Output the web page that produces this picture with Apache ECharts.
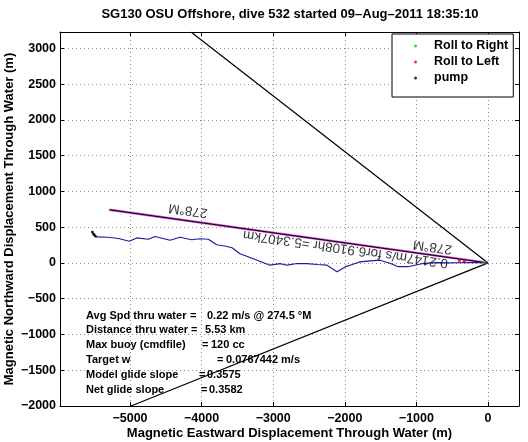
<!DOCTYPE html>
<html>
<head>
<meta charset="utf-8">
<script src="https://cdn.jsdelivr.net/npm/echarts@6/dist/echarts.min.js"></script>
<style>html,body{margin:0;padding:0;background:#fff;}#c{width:528px;height:442px;}</style>
</head>
<body>
<div id="c"></div>
<script>
// ---- data ----
const titleText = 'SG130 OSU Offshore, dive 532 started 09–Aug–2011 18:35:10';
const xAxisName = 'Magnetic Eastward Displacement Through Water (m)';
const yAxisName = 'Magnetic Northward Displacement Through Water (m)';
const xRange = [-5978, 433];
const yRange = [-2000, 3228];

// glider track through water (m)
const trackX = [-5526, -5499, -5465, -5303, -5163, -5010, -4906, -4744, -4651, -4441, -4302, -4138, -4022, -3906, -3789, -3659, -3575, -3464, -3278, -3045, -2905, -2807, -2667, -2528, -2388, -2249, -2109, -1997, -1885, -1788, -1690, -1508, -1369, -1253, -1117, -926, -740, -559, -363, -182, 0];
const trackY = [433, 380, 363, 359, 341, 303, 349, 331, 369, 317, 359, 324, 338, 331, 254, 233, 212, 128, 59, -32, -11, -32, -8, -11, -22, -32, -123, -56, -18, 14, 24, 38, -4, -53, -53, -11, 3, 0, 3, 6, 0];

// heading line (278 deg M)
const headingX = [0, -5289];
const headingY = [0, 743];
// black guide lines
const upperLineX = [0, -4148];
const upperLineY = [0, 3228];
const lowerLineX = [0, -4986];
const lowerLineY = [0, -2000];

// legend series
const rollRightX = [-60];
const rollRightY = [2];
const rollLeftX = [-400, -330];
const rollLeftY = [30, 25];
const pumpX = [-5526, -5505, -5485];
const pumpY = [433, 400, 375];

// rotated annotations
const annotText = ['278°M', '0.2147m/s for6.9108hr =5.3407km', '278°M'];
const annotX = [-4190, -1990, -775];
const annotY = [736, 198, 226];

// statistics text block
const statLabels = ['Avg Spd thru water', 'Distance thru water', 'Max buoy (cmdfile)', 'Target w', 'Model glide slope', 'Net glide slope'];
const statValues = ['0.22 m/s @ 274.5 °M', '5.53 km', '120 cc', '0.0767442 m/s', '0.3575', '0.3582'];

// ---- chart ----
const FONT = '"Liberation Sans", Arial, Helvetica, sans-serif';
const zip = (a, b) => a.map((v, i) => [v, b[i]]);
const fmt = v => (v < 0 ? '\u2212' + Math.abs(v) : String(v));

const chart = echarts.init(document.getElementById('c'), null, {renderer: 'canvas'});

const statGraphics = [];
const eqX = [190, 191, 202, 217, 199, 201];
const valX = [207, 205, 211, 226, 207, 209];
statLabels.forEach((lab, i) => {
  const y = 315.5 + i * 14.8;
  const f = 'bold 11px ' + FONT;
  statGraphics.push({type: 'text', x: 86, y: y, z: 100, style: {text: lab, font: f, fill: '#000', verticalAlign: 'middle'}});
  statGraphics.push({type: 'text', x: eqX[i], y: y, z: 100, style: {text: '=', font: f, fill: '#000', verticalAlign: 'middle'}});
  statGraphics.push({type: 'text', x: valX[i], y: y, z: 100, style: {text: statValues[i], font: f, fill: '#000', verticalAlign: 'middle'}});
});

const gridLine = {show: true, lineStyle: {color: '#8a8a8a', width: 1, type: [1, 3]}};

chart.setOption({
  animation: false,
  backgroundColor: '#fff',
  title: {
    text: titleText, left: 290, top: 8, textAlign: 'center', padding: 0,
    textStyle: {fontFamily: FONT, fontWeight: 'bold', fontSize: 13, color: '#000'}
  },
  grid: {left: 60, top: 32, width: 459, height: 374, containLabel: false, outerBoundsMode: 'none'},
  legend: {
    data: ['Roll to Right', 'Roll to Left', 'pump'],
    orient: 'vertical', left: 392, top: 34,
    padding: [5, 5, 12, 22], itemGap: 2, itemWidth: 3, itemHeight: 3,
    backgroundColor: '#fff', borderColor: '#000', borderWidth: 1, borderRadius: 0,
    icon: 'circle',
    textStyle: {fontFamily: FONT, fontWeight: 'bold', fontSize: 12.5, color: '#000', lineHeight: 14, padding: [0, 0, 0, 12]}
  },
  xAxis: [{
    type: 'value', min: xRange[0], max: xRange[1], splitNumber: 6,
    name: xAxisName, nameLocation: 'middle', nameGap: 21, nameMoveOverlap: false,
    nameTextStyle: {fontFamily: FONT, fontWeight: 'bold', fontSize: 13, color: '#000'},
    axisLine: {show: true, onZero: false, lineStyle: {color: '#000', width: 1}},
    axisTick: {show: true, inside: true, length: 4, lineStyle: {color: '#000'}},
    axisLabel: {fontFamily: FONT, fontWeight: 'bold', fontSize: 12.5, color: '#000', margin: 6,
      formatter: v => (Math.abs(v % 1000) < 1e-6 ? fmt(v) : '')},
    splitLine: gridLine
  }, {
    type: 'value', position: 'top', min: xRange[0], max: xRange[1], splitNumber: 6,
    axisLine: {show: true, onZero: false, lineStyle: {color: '#000', width: 1}},
    axisTick: {show: true, inside: true, length: 4, lineStyle: {color: '#000'}},
    axisLabel: {show: false}, splitLine: {show: false}
  }],
  yAxis: [{
    type: 'value', min: yRange[0], max: yRange[1], splitNumber: 10,
    name: yAxisName, nameLocation: 'middle', nameGap: 44, nameMoveOverlap: false,
    nameTextStyle: {fontFamily: FONT, fontWeight: 'bold', fontSize: 13, color: '#000'},
    axisLine: {show: true, onZero: false, lineStyle: {color: '#000', width: 1}},
    axisTick: {show: true, inside: true, length: 4, lineStyle: {color: '#000'}},
    axisLabel: {fontFamily: FONT, fontWeight: 'bold', fontSize: 12.5, color: '#000', margin: 4,
      formatter: v => (Math.abs(v % 500) < 1e-6 ? fmt(v) : '')},
    splitLine: gridLine
  }, {
    type: 'value', position: 'right', min: yRange[0], max: yRange[1], splitNumber: 10,
    axisLine: {show: true, onZero: false, lineStyle: {color: '#000', width: 1}},
    axisTick: {show: true, inside: true, length: 4, lineStyle: {color: '#000'}},
    axisLabel: {show: false}, splitLine: {show: false}
  }],
  graphic: statGraphics,
  series: [
    {type: 'line', name: 'upper', data: zip(upperLineX, upperLineY), symbol: 'none', silent: true,
      lineStyle: {color: '#000', width: 1.2}, z: 3},
    {type: 'line', name: 'lower', data: zip(lowerLineX, lowerLineY), symbol: 'none', silent: true,
      lineStyle: {color: '#000', width: 1.2}, z: 3},
    {type: 'line', name: 'headingPink', data: zip(headingX, headingY), symbol: 'none', silent: true,
      lineStyle: {color: '#e050e0', width: 2.4}, z: 3},
    {type: 'line', name: 'heading', data: zip(headingX, headingY), symbol: 'none', silent: true,
      lineStyle: {color: '#000', width: 1.1}, z: 4},
    {type: 'line', name: 'track', data: zip(trackX, trackY), symbol: 'none', silent: true,
      lineStyle: {color: '#1c1c9e', width: 1.2}, z: 5},
    {type: 'scatter', name: 'Roll to Right', data: zip(rollRightX, rollRightY), symbolSize: 3,
      itemStyle: {color: '#00cc00'}, z: 6},
    {type: 'scatter', name: 'Roll to Left', data: zip(rollLeftX, rollLeftY), symbolSize: 3,
      itemStyle: {color: '#dd0000'}, z: 6},
    {type: 'scatter', name: 'pump', data: zip(pumpX, pumpY), symbolSize: 3,
      itemStyle: {color: '#000'}, z: 6},
    {type: 'scatter', name: 'annotations', silent: true, symbolSize: 0, z: 7,
      data: annotText.map((t, i) => ({name: t, value: [annotX[i], annotY[i]]})),
      label: {show: true, position: 'inside', rotate: 172, formatter: p => p.name,
        fontFamily: FONT, fontSize: 13.5, color: '#000'}}
  ]
});
</script>
</body>
</html>
